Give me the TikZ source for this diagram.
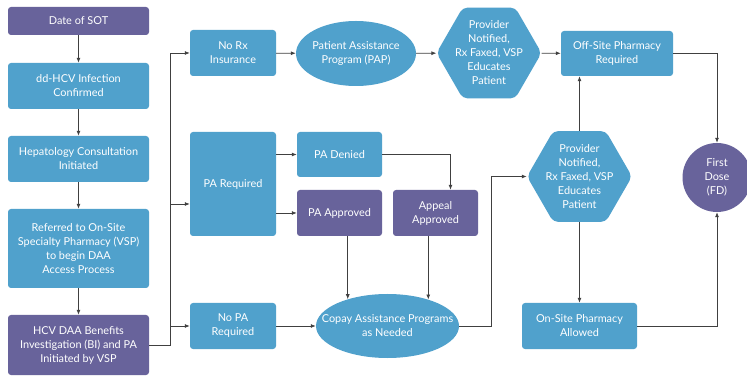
\documentclass[tikz,border=0pt]{standalone}
\usepackage{fontspec}
\setmainfont{Lato}
\usepackage{tikz}
\usetikzlibrary{positioning, arrows.meta, shapes.geometric}
\definecolor{boxBlue}{RGB}{80, 161, 204}
\definecolor{boxPurple}{RGB}{104, 99, 155}
\definecolor{lineColor}{RGB}{64, 64, 64}

\begin{document}
\begin{tikzpicture}[x=1pt, y=-1pt,
    every node/.style={text=white, align=center, inner sep=0pt, font=\fontsize{10.9}{14}\selectfont},
    stepBox/.style={rectangle, rounded corners=3pt, fill=boxBlue},
    keyBox/.style={stepBox, fill=boxPurple},
    roundBox/.style={ellipse, fill=boxBlue},
    hexBox/.style={regular polygon, regular polygon sides=6, minimum size=105pt, fill=boxBlue, rounded corners=5pt},
    flow/.style={draw=lineColor, line width=0.8pt, -{Latex[length=5pt, width=4pt]}}]
    \path[use as bounding box, fill=white] (0,0) rectangle (747,379);

    % left column
    \node[keyBox, minimum width=141pt, minimum height=28pt] (sot) at (78.5,21) {Date of SOT};
    \node[stepBox, minimum width=141pt, minimum height=46pt] (hcv) at (78.5,86) {dd-HCV Infection\\Confirmed};
    \node[stepBox, minimum width=141pt, minimum height=46pt] (hep) at (78.5,159) {Hepatology Consultation\\Initiated};
    \node[stepBox, minimum width=141pt, minimum height=79pt] (ref) at (78.5,248.5) {Referred to On-Site\\Specialty Pharmacy (VSP)\\to begin DAA\\Access Process};
    \node[keyBox, minimum width=141pt, minimum height=60pt] (bi) at (78.5,345) {HCV DAA Benefits\\Investigation (BI) and PA\\Initiated by VSP};

    \node[stepBox, minimum width=86pt, minimum height=46pt] (norx) at (233,53) {No Rx\\Insurance};
    \node[roundBox, minimum width=120pt, minimum height=65pt, label={center:Patient Assistance\\Program (PAP)}] (pap) at (356,53.5) {};
    \node[hexBox, label={center:Provider\\Notified,\\Rx Faxed, VSP\\Educates\\Patient}] (hexA) at (489,53) {};
    \node[stepBox, minimum width=112pt, minimum height=45pt] (offsite) at (617,53.5) {Off-Site Pharmacy\\Required};

    \node[stepBox, minimum width=86pt, minimum height=104pt] (parq) at (233,184) {PA Required};
    \node[stepBox, minimum width=85pt, minimum height=45pt] (padenied) at (339.5,154.5) {PA Denied};
    \node[keyBox, minimum width=85pt, minimum height=46pt] (paappr) at (339.5,213) {PA Approved};
    \node[keyBox, minimum width=85pt, minimum height=46pt] (appeal) at (435.5,213) {Appeal\\Approved};
    \node[hexBox, label={center:Provider\\Notified,\\Rx Faxed, VSP\\Educates\\Patient}] (hexB) at (579.5,176.5) {};
    \node[circle, fill=boxPurple, minimum size=69pt] (fd) at (717,177.5) {First\\Dose\\(FD)};

    \node[stepBox, minimum width=86pt, minimum height=46pt] (nopa) at (233,326) {No PA\\Required};
    \node[roundBox, minimum width=143pt, minimum height=64pt, label={center:Copay Assistance Programs\\as Needed}] (copay) at (387.5,326) {};
    \node[stepBox, minimum width=115pt, minimum height=46pt] (onsite) at (579.5,326) {On-Site Pharmacy\\Allowed};

    \draw[flow] (sot) -- (hcv);
    \draw[flow] (hcv) -- (hep);
    \draw[flow] (hep) -- (ref);
    \draw[flow] (ref) -- (bi);

    % branch out of the benefits investigation
    \coordinate (spineLow) at (170,345);
    \draw[flow] (bi.east) -- (spineLow) |- (norx.west);
    \draw[flow] (spineLow) |- ([yshift=-20pt]parq.west);
    \draw[flow] (spineLow) |- (nopa.west);

    \draw[flow] (norx) -- (pap);
    \draw[flow] (pap) -- (hexA);
    \draw[flow] (hexA) -- (offsite);
    \draw[flow] (offsite.east) -| (fd.north);

    \draw[flow] (parq.east |- padenied.west) -- (padenied.west);
    \draw[flow] (parq.east |- paappr.west) -- (paappr.west);
    \draw[flow] (padenied.east) -| ([xshift=15pt]appeal.north);
    \draw[flow] (copay.146.5 |- paappr.south) -- (copay.146.5);
    \draw[flow] (copay.33.5 |- appeal.south) -- (copay.33.5);

    \draw[flow] (nopa) -- (copay);
    \draw[flow] (copay.east) -- ++(32,0) |- (hexB.west);
    \draw[flow] (hexB.north) -- (hexB.north |- offsite.south);
    \draw[flow] (hexB) -- (onsite);
    \draw[flow] (onsite.east) -| (fd.south);
\end{tikzpicture}
\end{document}
